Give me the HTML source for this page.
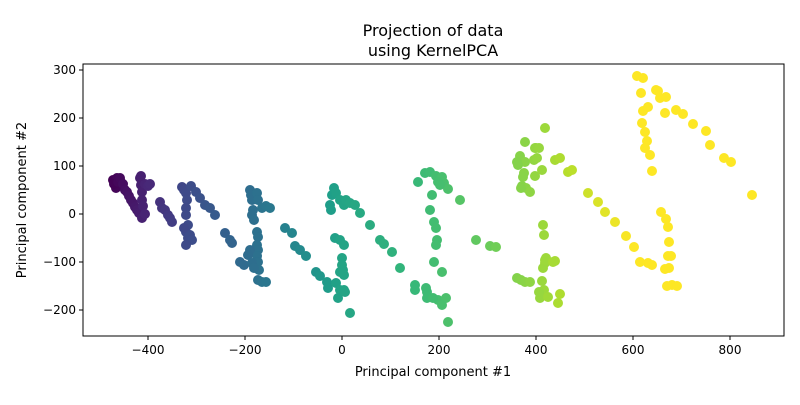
<!DOCTYPE html><html><head><style>body{margin:0;background:#fff;font-family:"Liberation Sans","DejaVu Sans",sans-serif}</style></head><body>
<svg id="s" width="800" height="400" xmlns="http://www.w3.org/2000/svg" font-family="DejaVu Sans, Liberation Sans, sans-serif">
<rect width="800" height="400" fill="#fff"/>
<text x="433" y="36" font-size="16" text-anchor="middle">Projection of data</text>
<text x="433" y="56" font-size="16" text-anchor="middle">using KernelPCA</text>
<g id="pts"></g>
<rect x="83" y="64" width="701" height="272" fill="none" stroke="#000" stroke-width="1"/>
<g font-size="12" text-anchor="middle" id="xt"></g>
<g font-size="12" text-anchor="end" id="yt"></g>
<text x="433" y="376" font-size="13" text-anchor="middle">Principal component #1</text>
<text transform="translate(26,200) rotate(-90)" font-size="13" text-anchor="middle">Principal component #2</text>
</svg>
<script>
var ns="http://www.w3.org/2000/svg",s=document.getElementById('s');
function el(t,a,p){var e=document.createElementNS(ns,t);for(var k in a)e.setAttribute(k,a[k]);(p||s).appendChild(e);return e;}
var xt=document.getElementById('xt'),yt=document.getElementById('yt');
[-400,-200,0,200,400,600,800].forEach(function(v){var x=342+0.485*v;el('line',{x1:x,x2:x,y1:336,y2:340,stroke:'#000'},xt);var t=el('text',{x:x,y:354},xt);t.textContent=(v<0?'\u2212'+(-v):v);});
[-200,-100,0,100,200,300].forEach(function(v){var y=214-0.48*v;el('line',{x1:79,x2:83,y1:y,y2:y,stroke:'#000'},yt);var t=el('text',{x:76,y:y+4},yt);t.textContent=(v<0?'\u2212'+(-v):v);});
var vir=[[68,1,84],[72,40,120],[62,74,137],[49,104,142],[38,130,142],[31,158,137],[53,183,121],[109,205,89],[180,222,44],[253,231,37]];
var A=[[112,0],[186,2],[260,3.4],[340,5.2],[430,6.2],[540,7.6],[630,9]];
function fx(x){if(x<=A[0][0])return 0;for(var i=1;i<A.length;i++){if(x<=A[i][0]){var a=A[i-1],b=A[i];return a[1]+(b[1]-a[1])*(x-a[0])/(b[0]-a[0]);}}return 9;}
function col(x){var f=fx(x);var i=Math.min(8,Math.floor(f)),r=f-i,a=vir[i],b=vir[i+1];return 'rgb('+[0,1,2].map(function(k){return Math.round(a[k]+(b[k]-a[k])*r)}).join(',')+')';}
var P=[[113,180],[115,183],[117,178],[119,186],[121,182],[116,188],[114,184],[118,182],[120,178],[123,184],[125,190],[127,192],[129,196],[131,200],[133,203],[135,207],[137,210],[139,213],[142,218],[140,178],[141,185],[142,192],[142,200],[143,206],[145,214],[145,184],[148,186],[150,184],[141,176],
[160,202],[162,208],[165,210],[168,215],[170,218],[172,222],[182,187],[184,190],[186,193],[187,200],[186,208],[186,215],[188,225],[186,232],[188,238],[190,235],[192,240],[186,245],[184,228],[191,186],[196,192],[200,198],[205,205],[210,208],[215,215],[225,233],[230,240],[232,243],
[250,190],[251,195],[252,200],[253,210],[252,215],[254,220],[257,193],[258,200],[262,208],[266,206],[270,208],[257,232],[258,237],[257,245],[258,250],[257,256],[258,262],[259,270],[258,280],[262,282],[266,282],[250,250],[248,255],[240,262],[244,265],[252,263],[254,268],[285,228],[292,233],[295,246],[300,250],[306,256],[316,272],[320,276],[327,282],[328,288],
[330,205],[332,195],[334,188],[336,193],[340,200],[344,205],[346,200],[350,203],[355,205],[360,213],[370,225],[380,240],[384,244],[392,252],[400,268],[335,238],[340,240],[344,245],[342,258],[342,265],[340,272],[344,275],[336,283],[340,290],[344,290],[338,298],[345,292],[350,313],[343,270],[331,210],
[415,285],[415,290],[418,182],[425,173],[430,172],[436,176],[442,177],[444,183],[438,182],[432,195],[430,210],[434,222],[436,228],[437,240],[436,245],[434,262],[442,272],[438,300],[446,298],[442,305],[448,322],[427,298],[427,292],[426,288],[433,298],[460,200],[476,240],[490,246],[496,247],[448,189],[440,185],
[520,156],[535,148],[525,162],[524,173],[523,177],[522,186],[534,160],[526,188],[530,192],[536,148],[539,148],[545,128],[525,142],[535,176],[537,158],[521,188],[517,162],[518,165],[542,170],[555,160],[560,158],[568,172],[572,170],[546,258],[545,263],[542,281],[543,268],[545,260],[555,261],[544,290],[540,298],[548,297],[560,294],[558,303],[517,278],[521,280],[525,282],[530,282],[539,292],[544,235],[543,225],[553,262],[588,193],[598,202],[605,212],[615,222],[626,236],[634,247],
[637,76],[643,78],[641,93],[643,111],[642,123],[645,132],[647,141],[645,148],[650,155],[652,171],[656,90],[658,91],[660,98],[666,97],[676,110],[683,114],[693,124],[706,131],[710,145],[724,158],[731,162],[752,195],[665,113],[648,107],[661,212],[666,219],[668,227],[669,242],[668,256],[669,268],[672,285],[667,286],[671,256],[677,286],[665,269],[648,263],[652,265],[640,262]];
var g=document.getElementById('pts');
P.forEach(function(p){el('circle',{cx:p[0],cy:p[1],r:5,fill:col(p[0])},g);});
</script>
</body></html>
